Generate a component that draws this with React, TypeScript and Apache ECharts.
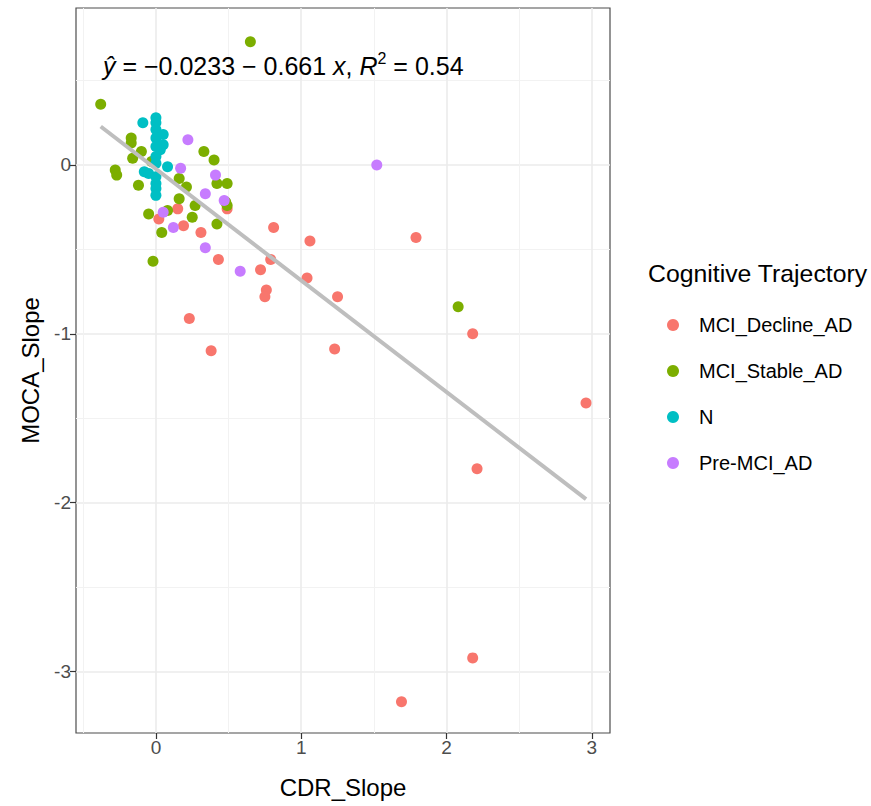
import React, { useEffect, useRef } from "react";
import * as echarts from "echarts";

const FONT = "Liberation Sans, Arial, Helvetica, sans-serif";

const groupNames = ["MCI_Decline_AD", "MCI_Stable_AD", "N", "Pre-MCI_AD"];
const groupColors = ["#F8766D", "#7CAE00", "#00BFC4", "#C77CFF"];

const mciDecline: [number, number][] = [
  [2.96, -1.41], [2.21, -1.8], [2.18, -1.0], [2.18, -2.92], [1.69, -3.18],
  [1.79, -0.43], [1.23, -1.09], [1.25, -0.78], [1.06, -0.45], [1.04, -0.67],
  [0.81, -0.37], [0.79, -0.56], [0.76, -0.74], [0.75, -0.78], [0.72, -0.62],
  [0.43, -0.56], [0.38, -1.1], [0.23, -0.91], [0.31, -0.4], [0.19, -0.36],
  [0.15, -0.26], [0.49, -0.26], [0.02, -0.32],
];

const mciStable: [number, number][] = [
  [0.65, 0.73], [-0.38, 0.36], [2.08, -0.84], [-0.17, 0.16], [-0.17, 0.13],
  [-0.1, 0.08], [-0.16, 0.04], [-0.28, -0.03], [-0.27, -0.06], [-0.12, -0.12],
  [-0.03, 0.02], [-0.05, -0.29], [-0.02, -0.57], [0.04, -0.4], [0.08, -0.27],
  [0.16, -0.08], [0.21, -0.13], [0.16, -0.2], [0.25, -0.31], [0.27, -0.24],
  [0.33, 0.08], [0.4, 0.03], [0.42, -0.11], [0.49, -0.11], [0.49, -0.24],
  [0.42, -0.35], [0.48, -0.22],
];

const normal: [number, number][] = [
  [-0.09, 0.25], [0, 0.28], [0, 0.25], [0, 0.21], [0, 0.16], [0.05, 0.18],
  [0.05, 0.12], [0.03, 0.09], [0, 0.11], [0, 0.05], [0, 0.01], [0.08, -0.01],
  [-0.08, -0.04], [-0.05, -0.05], [0, -0.07], [0, -0.11], [0, -0.14], [0, -0.18],
];

const preMci: [number, number][] = [
  [1.52, 0.0], [0.22, 0.15], [0.17, -0.02], [0.41, -0.06], [0.34, -0.17],
  [0.47, -0.21], [0.05, -0.28], [0.12, -0.37], [0.34, -0.49], [0.58, -0.63],
];

const groupData = [mciDecline, mciStable, normal, preMci];

// fitted line: y = intercept + slope * x, drawn over the data's x range
const intercept = -0.0233;
const slope = -0.661;
const fitRangeX = [-0.38, 2.96];

const xMajorTicks = [0, 1, 2, 3];
const xMinorTicks = [-0.5, 0.5, 1.5, 2.5];
const yMajorTicks = [-3, -2, -1, 0];
const yMinorTicks = [-2.5, -1.5, -0.5, 0.5];

const xRange = [-0.55, 3.125];
const yRange = [-3.365, 0.93];

export default function App() {
  const ref = useRef<HTMLDivElement>(null);

  useEffect(() => {
    document.body.style.margin = "0";
    const chart = echarts.init(ref.current!, undefined, { renderer: "svg" });

    const majorAxisCommon = {
      axisLine: { show: false, onZero: false },
      axisTick: { show: true, length: 6, inside: false, lineStyle: { color: "#333333", width: 1.2 } },
      axisLabel: { show: true, color: "#4D4D4D", fontSize: 19, fontFamily: FONT },
      splitLine: { show: true, lineStyle: { color: "#EBEBEB", width: 1.6 } },
    };
    const minorAxisCommon = {
      axisLine: { show: false, onZero: false },
      axisLabel: { show: false },
      splitLine: { show: true, lineStyle: { color: "#F2F2F2", width: 1 } },
    };

    const scatterSeries = groupNames.map((name, i) => ({
      name,
      type: "scatter",
      xAxisIndex: 0,
      yAxisIndex: 0,
      symbol: "circle",
      symbolSize: 11,
      itemStyle: { color: groupColors[i], opacity: 1 },
      data: groupData[i],
      z: 3,
    }));

    const option: any = {
      animation: false,
      backgroundColor: "#ffffff",
      textStyle: { fontFamily: FONT },
      grid: {
        left: 76,
        top: 8,
        right: 261,
        bottom: 73,
        show: true,
        borderColor: "#4D4D4D",
        borderWidth: 1.2,
        backgroundColor: "#ffffff",
        containLabel: false,
      },
      xAxis: [
        {
          type: "value",
          min: xRange[0],
          max: xRange[1],
          position: "bottom",
          name: "CDR_Slope",
          nameLocation: "middle",
          nameGap: 42,
          nameTextStyle: { color: "#000000", fontSize: 24, fontFamily: FONT, verticalAlign: "top" },
          ...majorAxisCommon,
          axisTick: { ...majorAxisCommon.axisTick, customValues: xMajorTicks },
          axisLabel: { ...majorAxisCommon.axisLabel, margin: 5, customValues: xMajorTicks },
        },
        {
          type: "value",
          min: xRange[0],
          max: xRange[1],
          position: "top",
          ...minorAxisCommon,
          axisTick: { show: false, customValues: xMinorTicks },
        },
      ],
      yAxis: [
        {
          type: "value",
          min: yRange[0],
          max: yRange[1],
          position: "left",
          name: "MOCA_Slope",
          nameLocation: "middle",
          nameGap: 34,
          nameRotate: 90,
          nameTextStyle: { color: "#000000", fontSize: 24, fontFamily: FONT },
          ...majorAxisCommon,
          axisTick: { ...majorAxisCommon.axisTick, customValues: yMajorTicks },
          axisLabel: { ...majorAxisCommon.axisLabel, margin: 5, customValues: yMajorTicks },
        },
        {
          type: "value",
          min: yRange[0],
          max: yRange[1],
          position: "right",
          ...minorAxisCommon,
          axisTick: { show: false, customValues: yMinorTicks },
        },
      ],
      legend: {
        show: true,
        orient: "vertical",
        left: 662,
        top: 308,
        itemWidth: 12,
        itemHeight: 12,
        itemGap: 22,
        icon: "circle",
        data: groupNames,
        selectedMode: false,
        formatter: (name: string) => `{t|${name}}`,
        textStyle: {
          color: "#000000",
          fontSize: 20,
          fontFamily: FONT,
          lineHeight: 24,
          rich: {
            t: { fontSize: 20, fontFamily: FONT, color: "#000000", padding: [0, 0, 0, 15], lineHeight: 24 },
          },
        },
      },
      graphic: [
        {
          type: "text",
          x: 648,
          y: 273,
          style: {
            text: "Cognitive Trajectory",
            fill: "#000000",
            font: `24.8px ${FONT}`,
            textVerticalAlign: "middle",
          },
        },
        {
          type: "text",
          x: 103,
          y: 66,
          z: 10,
          style: {
            text: "{i|ŷ}{n| = −0.0233 − 0.661 }{i|x}{n|, }{i|R}{s|2}{n| = 0.54}",
            fill: "#000000",
            textVerticalAlign: "middle",
            rich: {
              n: { fontSize: 25, fontFamily: FONT, color: "#000000", lineHeight: 32 },
              i: { fontSize: 25, fontFamily: FONT, fontStyle: "italic", color: "#000000", lineHeight: 32 },
              s: { fontSize: 16, fontFamily: FONT, color: "#000000", lineHeight: 18, verticalAlign: "top" },
            },
          },
        },
      ],
      series: [
        ...scatterSeries,
        {
          name: "fit",
          type: "line",
          xAxisIndex: 0,
          yAxisIndex: 0,
          showSymbol: false,
          symbol: "none",
          lineStyle: { color: "#BEBEBE", width: 4 },
          data: fitRangeX.map((x) => [x, intercept + slope * x]),
          z: 4,
          silent: true,
        },
      ],
    };

    chart.setOption(option);
    return () => chart.dispose();
  }, []);

  return <div ref={ref} style={{ width: 871, height: 806 }} />;
}
